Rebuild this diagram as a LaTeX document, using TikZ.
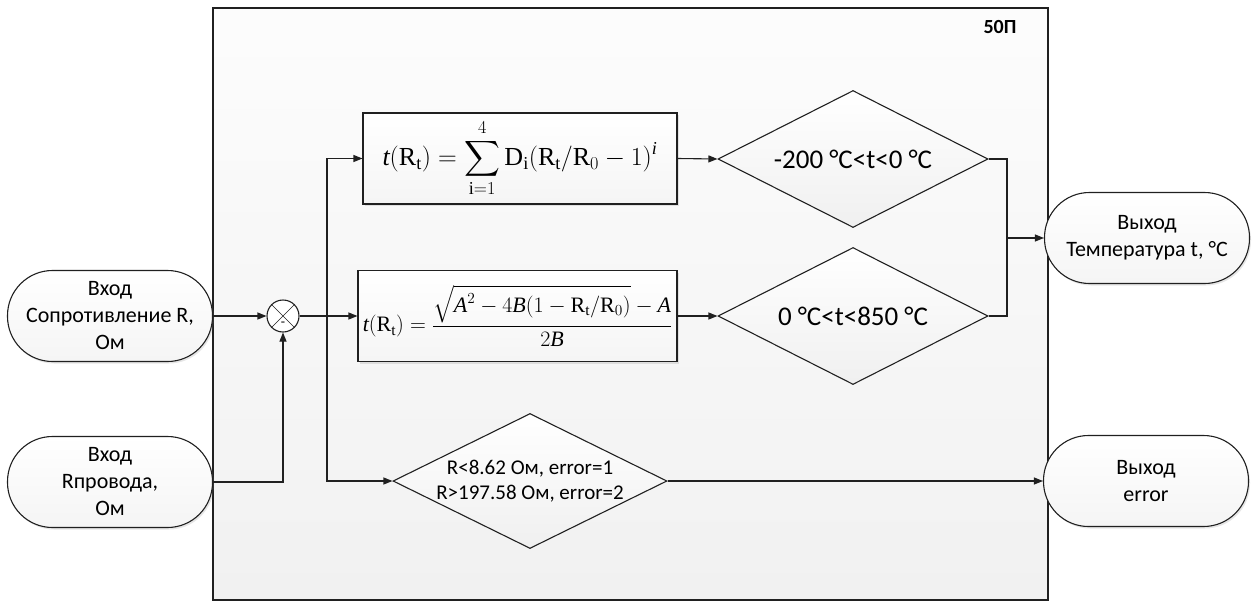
\RequirePackage{fix-cm}
\documentclass[tikz,border=0pt]{standalone}
\usepackage{amsmath}
\usepackage{fontspec}
\setmainfont{Carlito}
\setmathrm{Liberation Serif}
\newfontfamily\tnr{Liberation Serif}
\usetikzlibrary{shapes}
\usetikzlibrary{arrows.meta}
\usetikzlibrary{shadows}
\usetikzlibrary{positioning}
\newcommand{\vi}[1]{\text{\tnr\itshape #1}}
\newcommand{\vr}[1]{\text{\tnr #1}}

\begin{document}
\begin{tikzpicture}[x=1pt,y=-1pt]
    \tikzstyle{ln}=[draw=gray!25!black, line width=1.1pt];
    \tikzstyle{arr}=[ln, -{Triangle[length=9pt,width=7pt]}];
    \tikzstyle{shd}=[drop shadow={opacity=.2, shadow xshift=1.5pt, shadow yshift=-2pt}];
    \tikzstyle{term}=[ln, shd, rounded corners=45pt, minimum width=205pt, minimum height=91pt,
      top color=white, bottom color=gray!8, align=center, font=\fontsize{22}{27}\selectfont];
    \tikzstyle{fbox}=[ln, shd, rectangle, minimum height=91pt, top color=white, bottom color=gray!8,
      inner sep=2pt];
    \tikzstyle{cond}=[ln, diamond, aspect=2, inner sep=0pt, minimum width=270pt, minimum height=137pt,
      top color=white, bottom color=gray!12, font=\fontsize{27}{32}\selectfont];
    \useasboundingbox (0,0) rectangle (1257,602);
    % block
    \node (blk) [ln, rectangle, top color=white!98!gray, bottom color=gray!11, minimum width=835pt,
      minimum height=592pt, inner sep=0pt] at (630.5,304) {};
    \node (name) [font=\fontsize{20}{24}\selectfont\bfseries] at (1000,27) {50П};
    % inputs and outputs
    \node[term] (in1) at (110,316) {Вход\\Сопротивление R,\\Ом};
    \node[term] (in2) at (110,482) {Вход\\Rпровода,\\Ом};
    \node[term] (out1) at (1147,238) {Выход\\Температура t, °C};
    \node[term] (out2) at (1146,481) {Выход\\error};
    % summing point
    \node (sum) [ln, circle, minimum size=32pt, inner sep=0pt, fill=white] at (283,316) {};
    \draw[ln, line width=.6pt] (sum.north west) -- (sum.south east) (sum.north east) -- (sum.south west);
    \node (neg) [font=\fontsize{14}{14}\selectfont] at (283,324) {-};
    % formulas
    \node[fbox, minimum width=314pt, font=\fontsize{26}{30}\selectfont] (f1) at (520,158.5)
      {$\displaystyle \vi{t}(\vr{R}_{\vr{t}}) = \sum_{\vr{i}=1}^{4} \vr{D}_{\vr{i}}(\vr{R}_{\vr{t}}/\vr{R}_0 - 1)^{\vi{i}}$};
    \node[fbox, minimum width=319pt, font=\fontsize{22}{26}\selectfont] (f2) at (517.5,316)
      {$\displaystyle \vi{t}(\vr{R}_{\vr{t}}) = \frac{\sqrt{\vi{A}^2 - 4\vi{B}(1-\vr{R}_{\vr{t}}/\vr{R}_0)} - \vi{A}}{2\vi{B}}$};
    % conditions
    \node[cond] (d1) at (853,159) {-200 °C<t<0 °C};
    \node[cond] (d2) at (853,316) {0 °C<t<850 °C};
    \node[cond, minimum width=274pt, minimum height=135pt] (d3) at (530,481) {};
    \node (d3txt) [align=center, font=\fontsize{21}{25}\selectfont] at (d3) {R<8.62 Ом, error=1\\R>197.58 Ом, error=2};
    % connections
    \coordinate (split) at (327,316);
    \coordinate (merge) at (1007,238);
    \draw[arr] (in1.east) -- (sum.west);
    \draw[arr] (in2.east) -| (sum.south);
    \draw[ln] (sum.east) -- (split);
    \draw[arr] (split) -- (f2.west);
    \draw[arr] (split) |- (f1.west);
    \draw[arr] (split) |- (d3.west);
    \draw[arr] (f1.east) -- (d1.west);
    \draw[arr] (f2.east) -- (d2.west);
    \draw[ln] (d1.east) -| (merge);
    \draw[ln] (d2.east) -| (merge);
    \draw[arr] (merge) -- (out1.west);
    \draw[arr] (d3.east) -- (out2.west);
\end{tikzpicture}
\end{document}
